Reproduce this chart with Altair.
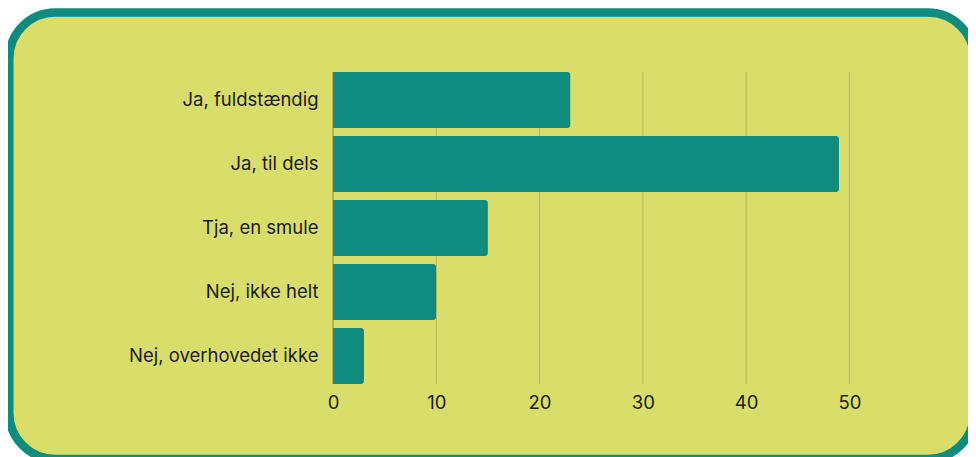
import altair as alt
import pandas as pd

categories = ["Ja, fuldstændig", "Ja, til dels", "Tja, en smule", "Nej, ikke helt", "Nej, overhovedet ikke"]
values = [23, 49, 15, 10, 3]
grid_ticks = [10, 20, 30, 40, 50]
axis_ticks = [0, 10, 20, 30, 40, 50]

TEAL = "#0f8b7f"
YELLOW = "#d9de6b"
GRID = "#aeb158"
FONT = "Inter"

df = pd.DataFrame({"svar": categories, "antal": values})
grid_df = pd.DataFrame({"v": grid_ticks})

xscale = alt.Scale(domain=[0, 55], nice=False, zero=True)
yscale = alt.Scale(paddingInner=0.125, paddingOuter=0)
xaxis = alt.Axis(values=axis_ticks, title=None, grid=False, domain=False, ticks=False,
                 labelFont=FONT, labelFontSize=18.5, labelColor="#1c1c1c",
                 labelPadding=9, zindex=1, labelFlush=False)

frame = alt.Chart(pd.DataFrame({"a": [0]})).mark_rect(
    fill=YELLOW, stroke=TEAL, strokeWidth=8.5, cornerRadius=46, clip=False
).encode(
    x=alt.value(-323.75), x2=alt.value(641), y=alt.value(-59.5), y2=alt.value(387)
)

grid = alt.Chart(grid_df).mark_rule(color=GRID, strokeWidth=1).encode(
    x=alt.X("v:Q", scale=xscale, axis=xaxis)
)

zero = alt.Chart(pd.DataFrame({"a": [0]})).mark_rule(color="#8c8a3c", strokeWidth=1).encode(
    x=alt.datum(0, scale=xscale, axis=xaxis)
)

bars = alt.Chart(df).mark_bar(color=TEAL, cornerRadiusEnd=3).encode(
    x=alt.X("antal:Q", scale=xscale, axis=xaxis),
    y=alt.Y("svar:N", sort=categories, scale=yscale,
            axis=alt.Axis(title=None, domain=False, ticks=False, grid=False,
                          labelFont=FONT, labelFontSize=18.5, labelColor="#1c1c1c",
                          labelPadding=15, zindex=1, labelLimit=400)),
)

chart = alt.layer(frame, grid, zero, bars).properties(
    width=568, height=312,
    autosize=alt.AutoSizeParams(type="none"),
    padding={"left": 325, "top": 64, "right": 67, "bottom": 73},
).configure_view(stroke=None).configure(background="white")

chart.save("out.html", embed_options={"renderer": "svg", "actions": False})
